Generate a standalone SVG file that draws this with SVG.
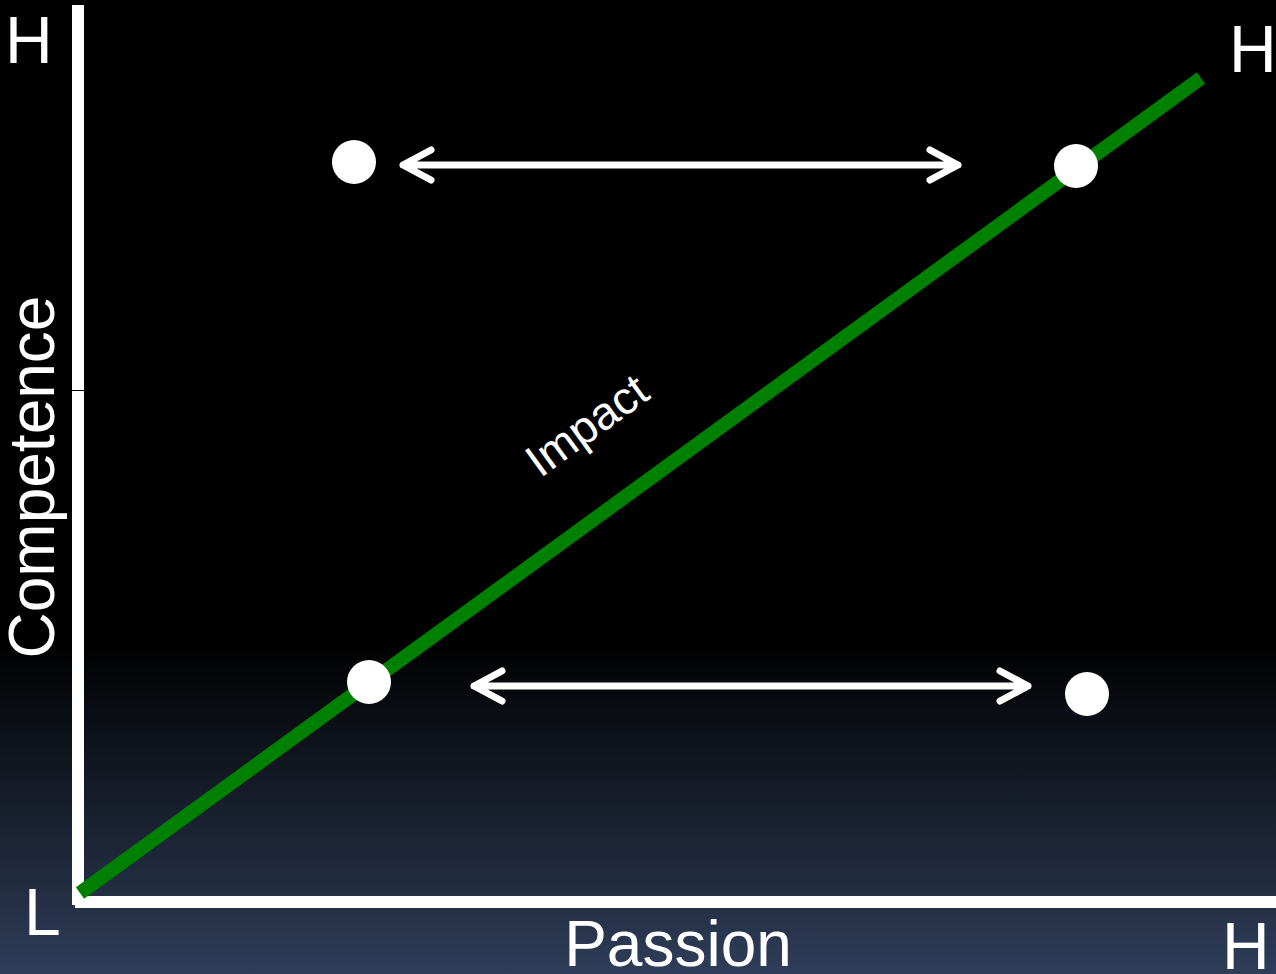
<svg xmlns="http://www.w3.org/2000/svg" width="1276" height="974" viewBox="0 0 1276 974">
<defs>
<linearGradient id="bg" x1="0" y1="0" x2="0" y2="974" gradientUnits="userSpaceOnUse">
<stop offset="0" stop-color="#000000"/>
<stop offset="0.66" stop-color="#000000"/>
<stop offset="1" stop-color="#2f3d59"/>
</linearGradient>
<style>
.lbl{font-family:"Liberation Sans",Arial,sans-serif;fill:#ffffff;}
.axis{fill:#ffffff;}
.dot{fill:#ffffff;}
.arr{stroke:#ffffff;stroke-width:7;fill:none;stroke-linecap:round;stroke-linejoin:round;}
</style>
</defs>
<rect x="0" y="0" width="1276" height="974" fill="url(#bg)"/>
<g id="axes">
<rect class="axis" x="72" y="5" width="12" height="900"/>
<rect class="axis" x="75" y="896" width="1201" height="12"/>
<line x1="72" y1="390.5" x2="84" y2="390.5" stroke="#000" stroke-width="1"/>
</g>
<g id="labels">
<text class="lbl" x="5" y="63" font-size="66">H</text>
<text class="lbl" x="1229" y="72" font-size="66">H</text>
<text class="lbl" x="1222" y="969" font-size="66">H</text>
<text class="lbl" x="24" y="935" font-size="66">L</text>
<text class="lbl" x="678" y="966" font-size="64" text-anchor="middle">Passion</text>
<text class="lbl" font-size="64" text-anchor="middle" transform="translate(54,477) rotate(-90)">Competence</text>
</g>
<g id="impact-line">
<line x1="80" y1="893" x2="1201" y2="78" stroke="#008000" stroke-width="14"/>
<text class="lbl" font-size="46" text-anchor="middle" transform="translate(596,438) rotate(-36)">Impact</text>
</g>
<g id="connectors">
<path class="arr" d="M403 165 H958 M431 150 L403 165 L431 180 M930 150 L958 165 L930 180"/>
<path class="arr" d="M474 686 H1028 M502 671 L474 686 L502 701 M1000 671 L1028 686 L1000 701"/>
</g>
<g id="dot-tl"><circle class="dot" cx="354" cy="162" r="22"/></g>
<g id="dot-tr"><circle class="dot" cx="1076" cy="166" r="22"/></g>
<g id="dot-bl"><circle class="dot" cx="369" cy="682" r="22"/></g>
<g id="dot-br"><circle class="dot" cx="1087" cy="694" r="22"/></g>
</svg>
